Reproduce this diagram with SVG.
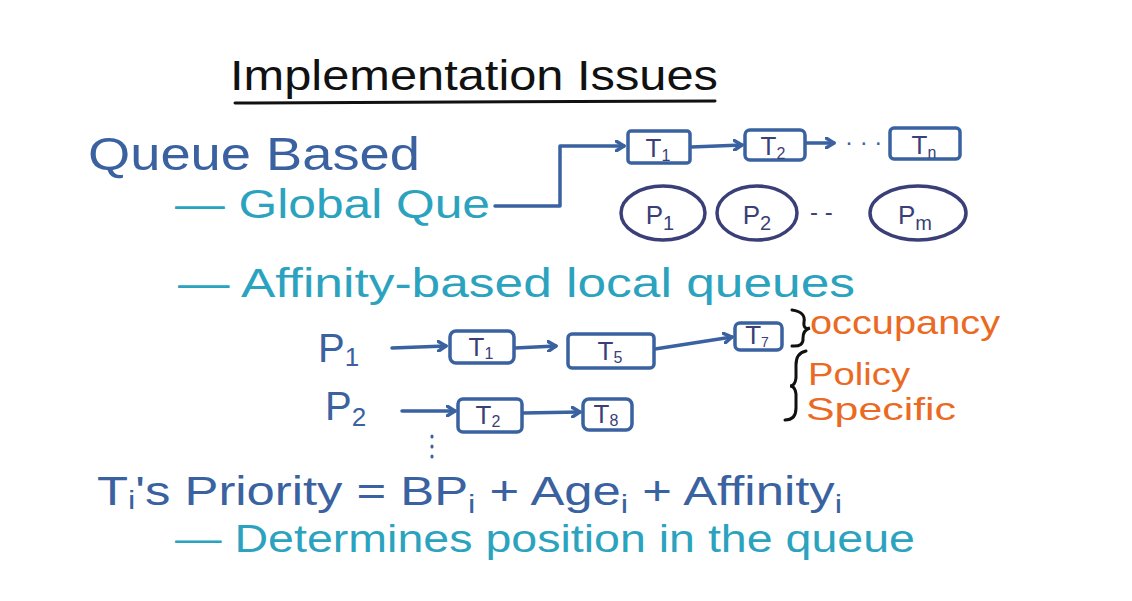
<svg xmlns="http://www.w3.org/2000/svg" width="1132" height="601" viewBox="0 0 1132 601">
<style>
  .t{font-family:"Liberation Sans","Open Sans",sans-serif;}
  .blue{fill:#3a62a0;}
  .teal{fill:#2ba3bf;}
  .orange{fill:#ea6a23;}
  .navy{fill:#3a3f78;}
  .box{fill:none;stroke:#3a62a0;stroke-width:3.5;stroke-linejoin:round;}
  .ell{fill:none;stroke:#3a3f78;stroke-width:3.5;}
  .ln{fill:none;stroke:#3a62a0;stroke-width:3.5;stroke-linecap:round;stroke-linejoin:round;}
  .tl{font-size:26px;fill:#3a3f78;}
</style>
<defs>
  <marker id="ah" markerWidth="12" markerHeight="12" refX="9" refY="6" orient="auto" markerUnits="userSpaceOnUse">
    <path d="M1,1 L9,6 L1,11" fill="none" stroke="#3a62a0" stroke-width="3.5" stroke-linecap="round" stroke-linejoin="round"/>
  </marker>
</defs>
<rect width="1132" height="601" fill="#ffffff"/>

<g id="title">
  <text class="t" x="230" y="90" font-size="42" fill="#111" textLength="488" lengthAdjust="spacingAndGlyphs">Implementation Issues</text>
  <path d="M235,103 L715,101" stroke="#111" stroke-width="3" fill="none" stroke-linecap="round"/>
</g>

<g id="queue-based">
  <text class="t blue" x="88" y="170" font-size="46" textLength="332" lengthAdjust="spacingAndGlyphs">Queue Based</text>
</g>
<g id="global-que">
  <text class="t teal" x="175" y="218" font-size="40" textLength="315" lengthAdjust="spacingAndGlyphs">— Global Que</text>
</g>

<g id="g-T1"><rect class="box" x="628" y="131" width="62" height="32" rx="3"/><text class="t tl" x="658" y="157" text-anchor="middle">T<tspan font-size="16" dy="4">1</tspan></text></g>
<g id="g-T2"><rect class="box" x="745" y="130" width="60" height="30" rx="5"/><text class="t tl" x="773" y="155" text-anchor="middle">T<tspan font-size="16" dy="4">2</tspan></text></g>
<g id="g-dots"><text class="t blue" x="845" y="150" font-size="24">· · ·</text></g>
<g id="g-Tn"><rect class="box" x="890" y="128" width="70" height="31" rx="4"/><text class="t tl" x="924" y="154" text-anchor="middle">T<tspan font-size="16" dy="4">n</tspan></text></g>

<g id="g-P1"><ellipse class="ell" cx="663" cy="213" rx="42" ry="27"/><text class="t tl" x="660" y="224" font-size="34" text-anchor="middle">P<tspan font-size="20" dy="6">1</tspan></text></g>
<g id="g-P2"><ellipse class="ell" cx="757" cy="213" rx="40" ry="27"/><text class="t tl" x="757" y="224" font-size="34" text-anchor="middle">P<tspan font-size="20" dy="6">2</tspan></text></g>
<g id="g-pdots"><text class="t navy" x="810" y="220" font-size="24">- -</text></g>
<g id="g-Pm"><ellipse class="ell" cx="918" cy="213" rx="48" ry="27"/><text class="t tl" x="915" y="224" font-size="34" text-anchor="middle">P<tspan font-size="20" dy="6">m</tspan></text></g>

<g id="affinity">
  <text class="t teal" x="178" y="297" font-size="40" textLength="677" lengthAdjust="spacingAndGlyphs">— Affinity-based local queues</text>
</g>

<g id="l-P1"><text class="t blue" x="318" y="362" font-size="40">P<tspan font-size="26" dy="4">1</tspan></text></g>
<g id="l-T1"><rect class="box" x="450" y="331" width="64" height="32" rx="6"/><text class="t tl" x="481" y="356" text-anchor="middle">T<tspan font-size="16" dy="3">1</tspan></text></g>
<g id="l-T5"><rect class="box" x="568" y="334" width="86" height="34" rx="4"/><text class="t tl" x="610" y="360" text-anchor="middle">T<tspan font-size="16" dy="3">5</tspan></text></g>
<g id="l-T7"><rect class="box" x="735" y="323" width="47" height="27" rx="5"/><text class="t tl" x="757" y="344" font-size="21" text-anchor="middle">T<tspan font-size="14" dy="3">7</tspan></text></g>

<g id="l-P2"><text class="t blue" x="325" y="420" font-size="40">P<tspan font-size="26" dy="6">2</tspan></text></g>
<g id="l-T2"><rect class="box" x="458" y="399" width="64" height="33" rx="5"/><text class="t tl" x="488" y="424" text-anchor="middle">T<tspan font-size="16" dy="3">2</tspan></text></g>
<g id="l-T8"><rect class="box" x="583" y="399" width="49" height="31" rx="6"/><text class="t tl" x="606" y="423" text-anchor="middle">T<tspan font-size="16" dy="3">8</tspan></text></g>
<g id="l-vdots"><path d="M432,436 v1 M432,446 v1 M432,456 v1" stroke="#3a62a0" stroke-width="3" stroke-linecap="round"/></g>

<g id="brace-occupancy">
  <path d="M792,310 Q806,312 804,322 Q803,330 810,328 Q803,330 803,338 Q804,347 792,346" fill="none" stroke="#111" stroke-width="3" stroke-linecap="round"/>
  <text class="t orange" x="810" y="334" font-size="34" textLength="190" lengthAdjust="spacingAndGlyphs">occupancy</text>
</g>
<g id="brace-policy">
  <path d="M806,351 Q796,353 796,365 L796,378 Q795,386 790,386 Q795,386 796,394 L796,408 Q796,420 785,420" fill="none" stroke="#111" stroke-width="3" stroke-linecap="round"/>
  <text class="t orange" x="808" y="385" font-size="32" textLength="102" lengthAdjust="spacingAndGlyphs">Policy</text>
  <text class="t orange" x="806" y="420" font-size="32" textLength="150" lengthAdjust="spacingAndGlyphs">Specific</text>
</g>

<g id="priority">
  <text class="t blue" x="97" y="505" font-size="40" textLength="745" lengthAdjust="spacingAndGlyphs">T<tspan font-size="26" dy="4">i</tspan><tspan dy="-4">'s Priority = BP</tspan><tspan font-size="26" dy="8">i</tspan><tspan dy="-8"> + Age</tspan><tspan font-size="26" dy="8">i</tspan><tspan dy="-8"> + Affinity</tspan><tspan font-size="26" dy="8">i</tspan></text>
</g>
<g id="determines">
  <text class="t teal" x="175" y="552" font-size="38" textLength="740" lengthAdjust="spacingAndGlyphs">— Determines position in the queue</text>
</g>

<g id="connectors">
  <path class="ln" d="M495,206 L560,206 L560,146 L624,146" marker-end="url(#ah)"/>
  <path class="ln" d="M691,147 L742,145" marker-end="url(#ah)"/>
  <path class="ln" d="M806,143 L834,143" marker-end="url(#ah)"/>
  <path class="ln" d="M392,348 L446,346" marker-end="url(#ah)"/>
  <path class="ln" d="M515,348 L556,346" marker-end="url(#ah)"/>
  <path class="ln" d="M655,349 L732,337" marker-end="url(#ah)"/>
  <path class="ln" d="M402,411 L455,411" marker-end="url(#ah)"/>
  <path class="ln" d="M523,413 L580,412" marker-end="url(#ah)"/>
</g>
</svg>
